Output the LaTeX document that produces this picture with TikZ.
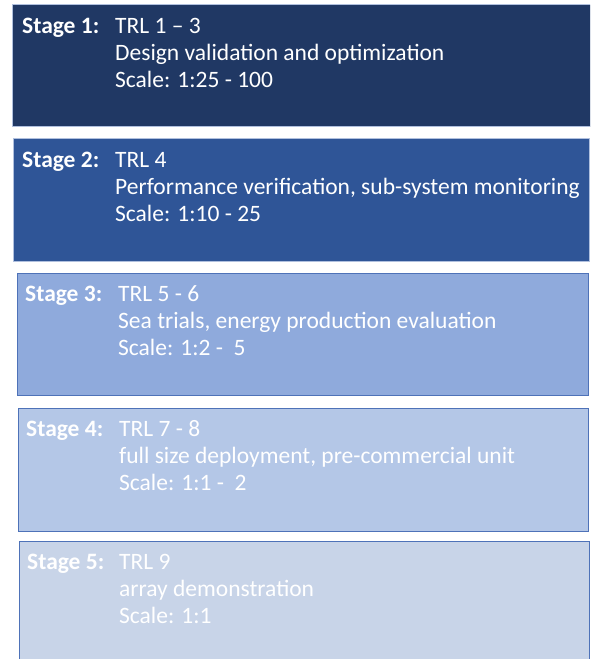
\documentclass[tikz,border=0pt]{standalone}
\usepackage{fontspec}
\setmainfont{Carlito}
\usetikzlibrary{calc}
\definecolor{fillA}{HTML}{203864}
\definecolor{fillB}{HTML}{2F5597}
\definecolor{fillC}{HTML}{8FAADC}
\definecolor{fillD}{HTML}{B4C7E7}
\definecolor{fillE}{HTML}{C8D4E8}
\definecolor{edgeLight}{HTML}{B0C0DE}
\definecolor{edgeDark}{HTML}{4E72B8}
\tikzset{
  stagebox/.style={rectangle, anchor=north west, inner sep=0pt, line width=1.2pt},
  lbl/.style={anchor=base west, inner sep=0pt, text=white, font=\bfseries\fontsize{23.5}{27}\selectfont},
  txt/.style={anchor=base west, inner sep=0pt, text=white, font=\fontsize{23.5}{27}\selectfont},
}
\begin{document}
\begin{tikzpicture}[x=1pt, y=-1pt]
\useasboundingbox (0,0) rectangle (590,659);
\clip (0,0) rectangle (590,659);
% boxes
\node[stagebox, fill=fillA, draw=edgeLight, minimum width=578pt, minimum height=122pt] (b1) at (12,4) {};
\node[stagebox, fill=fillB, draw=edgeLight, minimum width=576pt, minimum height=123pt] (b2) at (13,138) {};
\node[stagebox, fill=fillC, draw=edgeDark, minimum width=571pt, minimum height=122pt] (b3) at (17,273) {};
\node[stagebox, fill=fillD, draw=edgeDark, minimum width=570pt, minimum height=123pt] (b4) at (18,408) {};
\node[stagebox, fill=fillE, draw=edgeDark, minimum width=570pt, minimum height=140pt] (b5) at (19,541) {};
% stage 1
\node[lbl] (s1) at (22,33) {Stage 1:};
\node[txt] (s1a) at (115,33) {TRL 1 – 3};
\node[txt] (s1b) at (115,60) {Design validation and optimization};
\node[txt] (s1c) at (115,87) {Scale: 1:25 - 100};
% stage 2
\node[lbl] (s2) at (22,167) {Stage 2:};
\node[txt] (s2a) at (115,167) {TRL 4};
\node[txt] (s2b) at (115,194) {Performance verification, sub-system monitoring};
\node[txt] (s2c) at (115,221) {Scale: 1:10 - 25};
% stage 3
\node[lbl] (s3) at (25,301) {Stage 3:};
\node[txt] (s3a) at (118,301) {TRL 5 - 6};
\node[txt] (s3b) at (118,328) {Sea trials, energy production evaluation};
\node[txt] (s3c) at (118,355) {Scale: 1:2 -\ \ 5};
% stage 4
\node[lbl] (s4) at (26,436) {Stage 4:};
\node[txt] (s4a) at (119,436) {TRL 7 - 8};
\node[txt] (s4b) at (119,463) {full size deployment, pre-commercial unit};
\node[txt] (s4c) at (119,490) {Scale: 1:1 -\ \ 2};
% stage 5
\node[lbl] (s5) at (27,569) {Stage 5:};
\node[txt] (s5a) at (119,569) {TRL 9};
\node[txt] (s5b) at (119,596) {array demonstration};
\node[txt] (s5c) at (119,623) {Scale: 1:1};
\end{tikzpicture}
\end{document}
